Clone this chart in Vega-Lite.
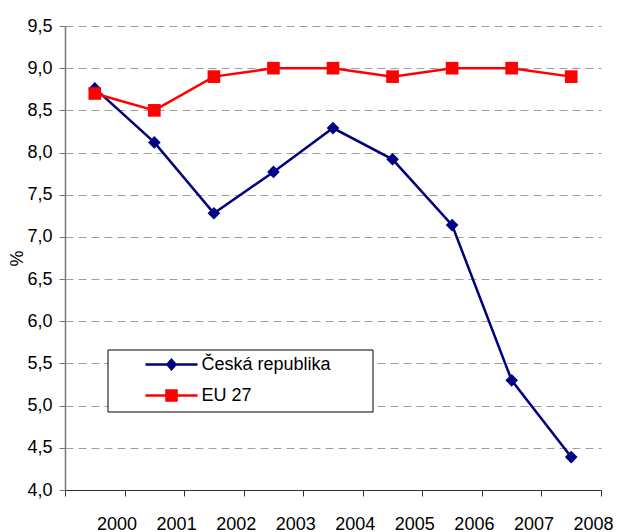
{
  "$schema": "https://vega.github.io/schema/vega-lite/v6.json",
  "width": 536,
  "height": 464,
  "autosize": "none",
  "padding": {"left": 65, "top": 26, "right": 29, "bottom": 42},
  "background": "white",
  "config": {"view": {"stroke": null}, "font": "Liberation Sans"},
  "data": {"values": [
    {"year": 2000, "series": "Česká republika", "value": 8.76},
    {"year": 2001, "series": "Česká republika", "value": 8.12},
    {"year": 2002, "series": "Česká republika", "value": 7.28},
    {"year": 2003, "series": "Česká republika", "value": 7.77},
    {"year": 2004, "series": "Česká republika", "value": 8.29},
    {"year": 2005, "series": "Česká republika", "value": 7.92},
    {"year": 2006, "series": "Česká republika", "value": 7.14},
    {"year": 2007, "series": "Česká republika", "value": 5.30},
    {"year": 2008, "series": "Česká republika", "value": 4.39},
    {"year": 2000, "series": "EU 27", "value": 8.7},
    {"year": 2001, "series": "EU 27", "value": 8.5},
    {"year": 2002, "series": "EU 27", "value": 8.9},
    {"year": 2003, "series": "EU 27", "value": 9.0},
    {"year": 2004, "series": "EU 27", "value": 9.0},
    {"year": 2005, "series": "EU 27", "value": 8.9},
    {"year": 2006, "series": "EU 27", "value": 9.0},
    {"year": 2007, "series": "EU 27", "value": 9.0},
    {"year": 2008, "series": "EU 27", "value": 8.9}
  ]},
  "encoding": {
    "x": {
      "field": "year", "type": "quantitative",
      "scale": {"domain": [1999.5, 2008.5], "nice": false, "zero": false},
      "axis": {
        "title": null, "grid": false,
        "values": [1999.5, 2000.5, 2001.5, 2002.5, 2003.5, 2004.5, 2005.5, 2006.5, 2007.5, 2008.5],
        "labelExpr": "datum.value < 2000 ? '' : toString(datum.value - 0.5)",
        "labelOffset": -8, "labelPadding": 19, "labelFontSize": 18, "labelColor": "#000",
        "labelFlush": false, "labelOverlap": false,
        "domainColor": "#333", "domainWidth": 1, "tickColor": "#333", "tickSize": 6, "tickWidth": 1
      }
    },
    "y": {
      "field": "value", "type": "quantitative",
      "scale": {"domain": [4, 9.5], "nice": false, "zero": false},
      "axis": {
        "title": "%", "titleFontSize": 18, "titleFontWeight": "normal", "titleColor": "#000", "titlePadding": 0,
        "values": [4, 4.5, 5, 5.5, 6, 6.5, 7, 7.5, 8, 8.5, 9, 9.5],
        "labelExpr": "replace(format(datum.value, '.1f'), '.', ',')",
        "labelFontSize": 18, "labelColor": "#000", "labelPadding": 7, "labelFlush": false,
        "domainColor": "#777", "domainWidth": 1.5, "tickColor": "#777", "tickSize": 6,
        "grid": true, "gridColor": "#a0a0a0", "gridDash": [8, 5], "gridWidth": 1
      }
    }
  },
  "layer": [
    {
      "transform": [{"filter": "datum.series === 'Česká republika'"}],
      "mark": {"type": "line", "strokeWidth": 2.5, "color": "#000080"}
    },
    {
      "transform": [{"filter": "datum.series === 'EU 27'"}],
      "mark": {"type": "line", "strokeWidth": 2.5, "color": "#FF0000"}
    },
    {
      "transform": [{"filter": "datum.series === 'Česká republika'"}],
      "mark": {"type": "point", "shape": "diamond", "filled": true, "opacity": 1, "size": 160, "color": "#000080"}
    },
    {
      "transform": [{"filter": "datum.series === 'EU 27'"}],
      "mark": {"type": "point", "shape": "square", "filled": true, "opacity": 1, "size": 160, "color": "#FF0000"}
    },
    {
      "mark": {"type": "point", "filled": true, "opacity": 0, "size": 10},
      "encoding": {
        "color": {
          "field": "series", "type": "nominal",
          "scale": {"domain": ["Česká republika", "EU 27"], "range": ["#000080", "#FF0000"]},
          "legend": {
            "title": ".", "titleOrient": "right", "titleColor": "#fff", "titleFontSize": 10, "titlePadding": 33,
            "orient": "none", "legendX": 42.5, "legendY": 323.5,
            "strokeColor": "#000", "fillColor": "#fff", "padding": 6,
            "labelFontSize": 18, "labelColor": "#000", "labelLimit": 0,
            "rowPadding": 11, "symbolOffset": 49, "labelOffset": 21, "symbolSize": 100, "symbolOpacity": 1
          }
        },
        "shape": {
          "field": "series", "type": "nominal",
          "scale": {"domain": ["Česká republika", "EU 27"], "range": [
            "M-5.2,-0.25H5.2V0.25H-5.2ZM0,-1.3L1.15,0L0,1.3L-1.15,0Z",
            "M-5.2,-0.25H5.2V0.25H-5.2ZM-1.25,-1.25H1.25V1.25H-1.25Z"
          ]},
          "legend": {
            "title": ".", "titleOrient": "right", "titleColor": "#fff", "titleFontSize": 10, "titlePadding": 33,
            "orient": "none", "legendX": 42.5, "legendY": 323.5,
            "strokeColor": "#000", "fillColor": "#fff", "padding": 6,
            "labelFontSize": 18, "labelColor": "#000", "labelLimit": 0,
            "rowPadding": 11, "symbolOffset": 49, "labelOffset": 21, "symbolSize": 100, "symbolOpacity": 1
          }
        }
      }
    }
  ]
}
